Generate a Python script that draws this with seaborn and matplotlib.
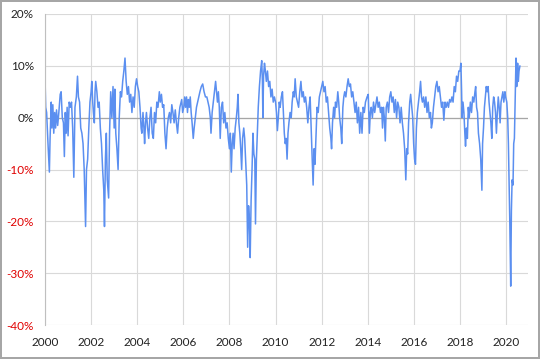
import numpy as np
import pandas as pd
import seaborn as sns
import matplotlib.pyplot as plt
from matplotlib.ticker import FuncFormatter

# valores (fecha decimal, % de variacion)
t_2000_2004 = [2000.00, 2000.03, 2000.07, 2000.10, 2000.14, 2000.19, 2000.22, 2000.27, 2000.30, 2000.34, 2000.38, 2000.42, 2000.46, 2000.50, 2000.55, 2000.60, 2000.66, 2000.70, 2000.75, 2000.80, 2000.84, 2000.88, 2000.92, 2000.96,
               2001.00, 2001.05, 2001.10, 2001.15, 2001.20, 2001.25, 2001.30, 2001.36, 2001.41, 2001.45, 2001.50, 2001.55, 2001.60, 2001.65, 2001.70, 2001.76, 2001.80, 2001.85, 2001.90, 2001.95,
               2002.00, 2002.03, 2002.07, 2002.10, 2002.14, 2002.17, 2002.20, 2002.25, 2002.30, 2002.35, 2002.40, 2002.45, 2002.50, 2002.55, 2002.58, 2002.62, 2002.66, 2002.70, 2002.76, 2002.80, 2002.85, 2002.90, 2002.95,
               2003.00, 2003.03, 2003.07, 2003.12, 2003.17, 2003.22, 2003.27, 2003.32, 2003.37, 2003.42, 2003.47, 2003.52, 2003.57, 2003.62, 2003.67, 2003.72, 2003.77, 2003.82, 2003.87, 2003.92, 2003.97,
               2004.02, 2004.07, 2004.12, 2004.17, 2004.20, 2004.25, 2004.29, 2004.32, 2004.36, 2004.40, 2004.45, 2004.50, 2004.55, 2004.60, 2004.65, 2004.70, 2004.75, 2004.80, 2004.85, 2004.90, 2004.96]
v_2000_2004 = [7.8, 2.0, 1.0, -2.0, -6.0, -10.5, -4, 3.0, -2, 2.5, -3, 1, -2, 1.5, -1.5, 1, 4.5, 5.0, 0, -1, -7.5, 1, -3, 2,
               -3.5, 3, 2, 3, -2, -11.5, 2, 4, 8, 4, 3, -2, -3, -5, -10, -21, -10, -8, -2, 3,
               5, 7, 3, 1, -1, 5, 7, 5, 2, 3, -2, -5, -10, -14, -21, -8, -3, -12, -15.5, -3, 5, 0, 6,
               -2, 5.5, -3, -6, -10, 0, 5, 4, 7, 9, 11.5, 7, 4.5, 6, 3, 4.5, 1, 4, 2, 6, 7.5,
               6, 5, 2, -2, -3, 1, -2, -5, -1, 1, -2, -4, 0, 2, -3, -4, 1, -1, 3, 2, 5]

t_2005_2009 = [2005.00, 2005.05, 2005.10, 2005.15, 2005.20, 2005.25, 2005.30, 2005.35, 2005.40, 2005.45, 2005.50, 2005.55, 2005.60, 2005.65, 2005.70, 2005.75, 2005.80, 2005.85, 2005.93, 2005.97,
               2006.02, 2006.06, 2006.10, 2006.14, 2006.18, 2006.22, 2006.26, 2006.30, 2006.34, 2006.38, 2006.43, 2006.47, 2006.52, 2006.57, 2006.62, 2006.67, 2006.72, 2006.78, 2006.84, 2006.90, 2006.96,
               2007.02, 2007.07, 2007.12, 2007.17, 2007.20, 2007.25, 2007.30, 2007.35, 2007.40, 2007.44, 2007.48, 2007.52, 2007.56, 2007.60, 2007.65, 2007.70, 2007.75, 2007.80, 2007.85, 2007.90, 2007.95,
               2008.00, 2008.04, 2008.08, 2008.12, 2008.16, 2008.20, 2008.25, 2008.30, 2008.34, 2008.37, 2008.41, 2008.45, 2008.49, 2008.53, 2008.57, 2008.62, 2008.66, 2008.70, 2008.75, 2008.79, 2008.83, 2008.87, 2008.90, 2008.94, 2008.98,
               2009.02, 2009.06, 2009.10, 2009.13, 2009.17, 2009.21, 2009.25, 2009.30, 2009.35, 2009.40, 2009.43, 2009.45, 2009.48, 2009.52, 2009.56, 2009.60, 2009.65, 2009.70, 2009.75, 2009.80, 2009.85, 2009.90, 2009.95]
v_2005_2009 = [3, 4.5, 2, 2.5, -3, -6, -2, 0, 1, -1, 2.5, 1, -1, 1.5, -1, -3, 0, 2, 3.5, 1,
               2, 4, 2, 4, 1, 3.5, 2, 4, 1, -1, -4, -2, 0, 2, 3, 4, 5, 6, 6.5, 5, 4,
               4, 3, 2, 0, -3, 1, 3, 5, 7, 5, 3, 5, 2, -4, 2, 3, -1, 1, -2, -1, -4,
               -6, -3, -10.5, -5, -3, -6, -2, 0, 2, 4.5, -1, -3, -6, -10, -4, -2, -4, -8, -13, -25, -17, -20, -27, -16, -10,
               -3, -7, -8, -20.5, -8, -3, 2, 6, 9, 11, 7, 0, 8, 10.5, 9, 7, 9, 6, 7, 4, 5.5, 3, 4]

t_2010_2014 = [2010.00, 2010.04, 2010.08, 2010.12, 2010.16, 2010.20, 2010.25, 2010.30, 2010.34, 2010.38, 2010.42, 2010.46, 2010.50, 2010.54, 2010.58, 2010.63, 2010.68, 2010.72, 2010.77, 2010.81, 2010.85, 2010.90, 2010.95,
               2011.00, 2011.05, 2011.10, 2011.15, 2011.20, 2011.25, 2011.30, 2011.35, 2011.40, 2011.45, 2011.50, 2011.55, 2011.59, 2011.63, 2011.67, 2011.71, 2011.75, 2011.80, 2011.85, 2011.90, 2011.95,
               2012.00, 2012.05, 2012.10, 2012.15, 2012.20, 2012.25, 2012.30, 2012.35, 2012.40, 2012.43, 2012.47, 2012.52, 2012.56, 2012.60, 2012.65, 2012.70, 2012.74, 2012.78, 2012.83, 2012.87, 2012.92, 2012.96,
               2013.00, 2013.05, 2013.10, 2013.15, 2013.20, 2013.25, 2013.30, 2013.35, 2013.40, 2013.45, 2013.50, 2013.55, 2013.60, 2013.65, 2013.70, 2013.75, 2013.80, 2013.85, 2013.90, 2013.97,
               2014.02, 2014.07, 2014.11, 2014.15, 2014.20, 2014.25, 2014.30, 2014.35, 2014.40, 2014.45, 2014.50, 2014.55, 2014.60, 2014.64, 2014.68, 2014.72, 2014.76, 2014.80, 2014.85, 2014.90, 2014.95]
v_2010_2014 = [3, 1, -2.5, 0, 3, 2, 4, 5, 1, -3, -5, -4, -8, -3, -1, 1, 0, 3, 5, 4, 7.5, 4, 3,
               2, 5, 7, 4, 5, 3, 4, 2, -1, 2, 4, -3, -8, -13, -6, -9, -4, 2, 1, 4, 5,
               6, 7, 5, 6, 3, 4, 1, -2, -4, -6, -1, 2, 0, 3, 2, 5, 3, 0, -2, -5, 2, 4,
               5, 4, 6, 7.5, 6, 6.5, 4, 5, 3, 1, 3, -1, 2, -3, 1, -3, 2, 1, 3, 4,
               4.5, -3, 1, 2, 0, 3, 1, 2.5, 4, 2, 3, 1, 2, -2, 2, 0, -4.5, 2, 3, 1, 4]

t_2015_2020 = [2015.00, 2015.05, 2015.10, 2015.15, 2015.20, 2015.25, 2015.30, 2015.35, 2015.40, 2015.45, 2015.50, 2015.55, 2015.60, 2015.65, 2015.69, 2015.73, 2015.77, 2015.82, 2015.86, 2015.91, 2015.95, 2015.99,
               2016.03, 2016.07, 2016.11, 2016.15, 2016.20, 2016.25, 2016.29, 2016.33, 2016.37, 2016.42, 2016.47, 2016.52, 2016.57, 2016.62, 2016.67, 2016.72, 2016.76, 2016.80, 2016.85, 2016.90, 2016.95,
               2017.00, 2017.05, 2017.10, 2017.15, 2017.20, 2017.25, 2017.30, 2017.35, 2017.40, 2017.45, 2017.50, 2017.55, 2017.60, 2017.65, 2017.70, 2017.75, 2017.80, 2017.85, 2017.90, 2017.95,
               2018.00, 2018.04, 2018.07, 2018.09, 2018.13, 2018.17, 2018.21, 2018.24, 2018.28, 2018.32, 2018.36, 2018.40, 2018.45, 2018.50, 2018.55, 2018.60, 2018.65, 2018.68, 2018.72, 2018.76, 2018.80, 2018.85, 2018.90, 2018.95, 2018.98,
               2019.02, 2019.06, 2019.10, 2019.14, 2019.18, 2019.22, 2019.26, 2019.30, 2019.34, 2019.38, 2019.42, 2019.46, 2019.50, 2019.54, 2019.58, 2019.62, 2019.66, 2019.70, 2019.74, 2019.78, 2019.82, 2019.86, 2019.90, 2019.95, 2019.98,
               2020.03, 2020.07, 2020.10, 2020.13, 2020.16, 2020.20, 2020.23, 2020.26, 2020.30, 2020.33, 2020.36, 2020.40, 2020.43, 2020.46, 2020.50, 2020.53, 2020.56, 2020.60]
v_2015_2020 = [5, 3, 4, 1, 3.5, 0, 3, 2, -1, 2, -1, -3, -6, -12, -6, -7, -1, 3, 4.5, 2, 0, -5,
               -8, -9, -2, 1, 3, 5, 7, 4, 3, 4, 2, 4, 1, 3, 0, 1, -2, -1, 2, 4, 6,
               7, 5, 6, 4, 2, 3, -0.5, 3, 2, 3, 2, 3.5, 3, 4, 3, 6, 5, 8, 7, 9,
               9, 10.5, 5, 0, 3, 1, -3, -5.5, -2, -4, 2, 0, 3, 1, 4, 3, 5, 6, 2, 1, -3, -5, -8, -14, -5,
               -2, 2, 4, 6, 5, 6, 3, 1, -1, -4, 2, 4, 3, 1, -3, 1, 4, 2, -1, 3, 4, 5, 3, 5, 4,
               3, 0, -5, -12, -20, -32.5, -18, -12, -13, -5, -4, 5, 11.5, 6, 10.5, 7, 9, 10]

y_ticks = [-40, -30, -20, -10, 0, 10, 20]
x_ticks = list(range(2000, 2021, 2))

df = pd.DataFrame({
    "fecha": t_2000_2004 + t_2005_2009 + t_2010_2014 + t_2015_2020,
    "cambio": v_2000_2004 + v_2005_2009 + v_2010_2014 + v_2015_2020,
})

sns.set_style("white")
plt.rcParams["font.family"] = ["Lato", "DejaVu Sans"]

fig = plt.figure(figsize=(5.4, 3.59), dpi=100, edgecolor="#a6a6a6", linewidth=1.5)
ax = fig.add_axes([45 / 540, 1 - 325 / 359, (528 - 45) / 540, (325 - 14) / 359])

sns.lineplot(data=df, x="fecha", y="cambio", ax=ax, color="#5b8ff0", linewidth=1.1)

ax.set_xlim(2000, 2020.95)
ax.set_ylim(-40, 20)
ax.set_xticks(x_ticks)
ax.set_yticks(y_ticks)
ax.yaxis.set_major_formatter(FuncFormatter(lambda v, p: f"{v:.0f}%"))
ax.grid(True, color="#d9d9d9", linewidth=0.8)
ax.axhline(0, color="#a6a6a6", linewidth=0.9, zorder=1)
ax.set_axisbelow(True)
for s in ["top", "right", "bottom"]:
    ax.spines[s].set_visible(False)
ax.spines["left"].set_color("#bfbfbf")
ax.spines["left"].set_linewidth(0.8)
ax.set_xlabel("")
ax.set_ylabel("")
ax.tick_params(axis="both", length=0, labelsize=8.5, colors="#222222")
ax.tick_params(axis="y", pad=8)
ax.tick_params(axis="x", pad=9)
for lab, v in zip(ax.get_yticklabels(), y_ticks):
    if v < 0:
        lab.set_color("#e00000")

fig.savefig("out.png", dpi=100, edgecolor=fig.get_edgecolor())
